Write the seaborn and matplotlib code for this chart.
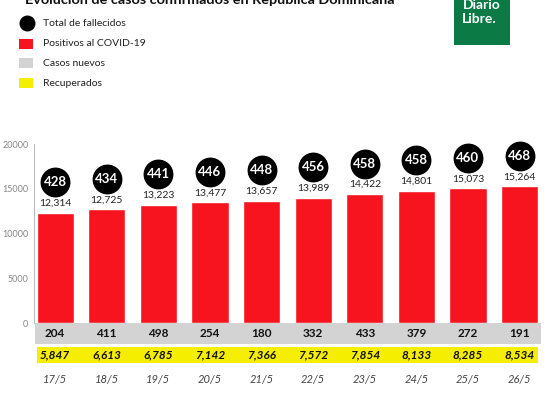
import matplotlib
matplotlib.use("Agg")
import matplotlib.pyplot as plt
import seaborn as sns
import pandas as pd
from matplotlib.patches import Rectangle

# Data
fechas = ["17/5", "18/5", "19/5", "20/5", "21/5", "22/5", "23/5", "24/5", "25/5", "26/5"]
positivos = [12314, 12725, 13223, 13477, 13657, 13989, 14422, 14801, 15073, 15264]
fallecidos = [428, 434, 441, 446, 448, 456, 458, 458, 460, 468]
casos_nuevos = [204, 411, 498, 254, 180, 332, 433, 379, 272, 191]
recuperados = [5847, 6613, 6785, 7142, 7366, 7572, 7854, 8133, 8285, 8534]

ROJO = "#f7141e"
GRIS = "#d3d3d3"
AMARILLO = "#f6ee00"
VERDE = "#0b7a45"

sns.set_theme(style="white")
plt.rcParams["font.family"] = ["Lato", "DejaVu Sans"]

df = pd.DataFrame({"fecha": fechas, "positivos": positivos})

fig = plt.figure(figsize=(5.5, 3.93), dpi=100)
ax = fig.add_axes([34 / 550, 0.0, 1 - 34 / 550, 249 / 393])

sns.barplot(data=df, x="fecha", y="positivos", color=ROJO, width=0.72,
            saturation=1, ax=ax)

ax.set_xlim(-0.41, 9.59)
ax.set_ylim(-7770, 20000)

# table rows under the axis
ax.add_patch(Rectangle((-0.40, -2250), 9.82, 2250, color=GRIS, lw=0, zorder=1))
ax.add_patch(Rectangle((-0.36, -4450), 9.72, 1850, color=AMARILLO, lw=0, zorder=1))

for i in range(len(fechas)):
    ax.text(i, positivos[i] + 550, f"{positivos[i]:,}", ha="center", va="bottom",
            fontsize=7.5, color="#222222")
    ax.scatter(i, positivos[i] + 3400, s=420, color="black", zorder=4, clip_on=False)
    ax.text(i, positivos[i] + 3400, str(fallecidos[i]), ha="center", va="center",
            fontsize=9.5, fontweight="bold", color="white", zorder=5)
    ax.text(i, -1150, str(casos_nuevos[i]), ha="center", va="center",
            fontsize=8.5, fontweight="bold", color="#111111", zorder=3)
    ax.text(i, -3520, f"{recuperados[i]:,}", ha="center", va="center",
            fontsize=8.5, fontweight="bold", style="italic", color="#111111", zorder=3)
    ax.text(i, -6220, fechas[i], ha="center", va="center",
            fontsize=8, style="italic", color="#444444")

ax.set_xticks([])
ax.set_yticks([0, 5000, 10000, 15000, 20000])
ax.set_yticklabels(["0", "5000", "10000", "15000", "20000"], fontsize=6.5, color="#888888")
ax.tick_params(axis="y", length=0, pad=4)
ax.set_xlabel("")
ax.set_ylabel("")
for s in ["top", "right", "bottom"]:
    ax.spines[s].set_visible(False)
ax.spines["left"].set_bounds(0, 20000)
ax.spines["left"].set_color("#bbbbbb")
ax.spines["left"].set_linewidth(0.8)
ax.patch.set_alpha(0)

# title (cut off at top edge like the source)
fig.text(25 / 550, 1 - 4 / 393, "Evolución de casos confirmados en República Dominicana",
         fontsize=10.4, fontweight="bold", color="#111111", va="baseline")

# legend
leg = fig.add_axes([0, 0, 1, 1], facecolor="none")
leg.set_xlim(0, 550)
leg.set_ylim(393, 0)
leg.axis("off")
leg.scatter([27], [23], s=110, color="black")
leg.add_patch(Rectangle((19, 39), 14, 10, color=ROJO, lw=0))
leg.add_patch(Rectangle((19, 58), 14, 10, color=GRIS, lw=0))
leg.add_patch(Rectangle((19, 78), 14, 10, color=AMARILLO, lw=0))
items = ["Total de fallecidos", "Positivos al COVID-19", "Casos nuevos", "Recuperados"]
for y, t in zip([23, 44, 63, 83], items):
    leg.text(43, y, t, fontsize=7.5, va="center", color="#222222")

# logo
leg.add_patch(Rectangle((454, 0), 56, 45, color=VERDE, lw=0))
leg.text(482, 5, "Diario", fontsize=10, fontweight="bold", color="white",
         ha="center", va="center")
leg.text(479, 19, "Libre.", fontsize=10, fontweight="bold", color="white",
         ha="center", va="center")

fig.savefig("out.png", dpi=100)
